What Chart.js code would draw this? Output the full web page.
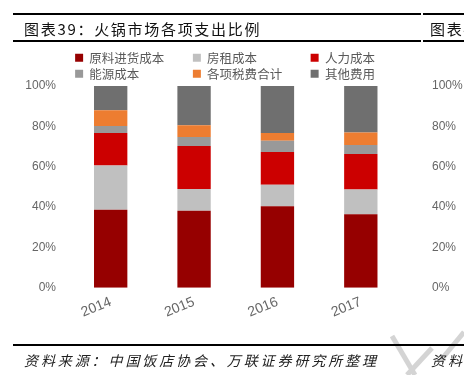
<!DOCTYPE html>
<html>
<head>
<meta charset="utf-8">
<script src="https://cdn.jsdelivr.net/npm/chart.js@4.4.1/dist/chart.umd.min.js"></script>
<style>
  body { margin: 0; background: #fff; }
  #wrap { position: relative; width: 464px; height: 375px; overflow: hidden; font-family: "Noto Sans CJK SC", sans-serif; }
  #wrap canvas { position: absolute; left: 0; top: 0; }
  .rule { position: absolute; background: #000; height: 2px; }
  .txt { position: absolute; white-space: nowrap; color: #111; }
  .title { font-size: 15px; letter-spacing: 1.7px; top: 18px; }
  .src { font-size: 14px; letter-spacing: 2.9px; font-style: italic; top: 350px; color: #222; }
  svg { position: absolute; left: 0; top: 0; }
</style>
</head>
<body>
<div id="wrap">
  <svg width="464" height="375">
    <g stroke="#d4d4d4" stroke-width="5" fill="none">
      <line x1="392" y1="336" x2="415" y2="375"/>
      <line x1="407" y1="375" x2="432" y2="348"/>
      <line x1="441" y1="360" x2="464" y2="332"/>
    </g>
  </svg>
  <canvas id="costChart" width="464" height="375"></canvas>
  <div class="rule" style="left:13px;top:13px;width:408px;"></div>
  <div class="rule" style="left:423px;top:13px;width:41px;"></div>
  <div class="rule" style="left:13px;top:40px;width:408px;"></div>
  <div class="rule" style="left:423px;top:40px;width:41px;"></div>
  <div class="txt title" style="left:24px;">图表39：火锅市场各项支出比例</div>
  <div class="txt title" style="left:430px;">图表40</div>
  <div class="rule" style="left:13px;top:344px;width:451px;"></div>
  <div class="txt src" style="left:24px;">资料来源：中国饭店协会、万联证券研究所整理</div>
  <div class="txt src" style="left:431px;">资料来源</div>
</div>
<script>
const years = ['2014', '2015', '2016', '2017'];
const seriesNames = ['原料进货成本', '房租成本', '人力成本', '能源成本', '各项税费合计', '其他费用'];
const material = [38.7, 38.2, 40.4, 36.4];
const rent = [21.9, 10.8, 10.6, 12.3];
const labor = [16.1, 21.3, 16.3, 17.6];
const energy = [3.5, 4.4, 5.6, 4.5];
const taxes = [7.8, 5.9, 3.8, 6.1];
const other = [12.0, 19.4, 23.3, 23.1];
const yTicks = [0, 20, 40, 60, 80, 100];

const colors = ['#960000', '#c0c0c0', '#cc0000', '#999999', '#ed7d31', '#6f6f6f'];
const values = [material, rent, labor, energy, taxes, other];

// the legend adds 10px under itself, trim it so the plot can start higher,
// and nudge it right a bit to sit where the original legend was
const legendTweak = {
  id: 'legendTweak',
  beforeLayout(chart) {
    const lg = chart.legend;
    if (lg && !lg._trimmed) {
      const fit = lg.fit;
      lg.fit = function () {
        fit.call(this);
        this.height -= 4;
      };
      lg._trimmed = true;
    }
  },
  afterLayout(chart) {
    const lg = chart.legend;
    if (lg) {
      lg.left += 14;
      lg.right += 14;
    }
  }
};

const tickFont = { family: '"Liberation Sans", Arial, sans-serif', size: 12 };

new Chart(document.getElementById('costChart'), {
  type: 'bar',
  data: {
    labels: years,
    datasets: seriesNames.map((name, i) => ({
      label: name,
      data: values[i],
      backgroundColor: colors[i],
      borderWidth: 0,
      barPercentage: 0.4,
      categoryPercentage: 1
    }))
  },
  options: {
    responsive: false,
    animation: false,
    layout: { padding: { top: 48, left: 8, right: 0, bottom: 48 } },
    plugins: {
      tooltip: { enabled: false },
      legend: {
        position: 'top',
        labels: {
          boxWidth: 8,
          boxHeight: 8,
          padding: 3.5,
          color: '#595959',
          font: { family: '"Noto Sans CJK SC", sans-serif', size: 12.5 },
          generateLabels(chart) {
            const items = Chart.defaults.plugins.legend.labels.generateLabels(chart);
            items.forEach(it => {
              const pad = 8 - it.text.length;
              it.text = it.text + '\u3000'.repeat(pad > 0 ? pad : 0);
            });
            return items;
          }
        }
      }
    },
    scales: {
      x: {
        stacked: true,
        grid: { display: false, drawTicks: false },
        border: { display: false },
        ticks: {
          color: '#666',
          font: { family: '"Liberation Sans", Arial, sans-serif', size: 14 },
          minRotation: 22,
          maxRotation: 22,
          padding: 6
        }
      },
      y: {
        stacked: true,
        min: 0,
        max: 100,
        grid: { display: false, drawTicks: false },
        border: { display: false },
        afterBuildTicks(axis) { axis.ticks = yTicks.map(v => ({ value: v })); },
        afterFit(axis) { axis.width = 61; },
        ticks: {
          color: '#666',
          font: tickFont,
          padding: 13,
          callback: v => v + '%'
        }
      },
      y2: {
        position: 'right',
        display: true,
        min: 0,
        max: 100,
        grid: { display: false, drawTicks: false },
        border: { display: false },
        afterBuildTicks(axis) { axis.ticks = yTicks.map(v => ({ value: v })); },
        afterFit(axis) { axis.width = 61.5; },
        ticks: {
          color: '#666',
          font: tickFont,
          padding: 29.5,
          callback: v => v + '%'
        }
      }
    }
  },
  plugins: [legendTweak]
});
</script>
</body>
</html>
